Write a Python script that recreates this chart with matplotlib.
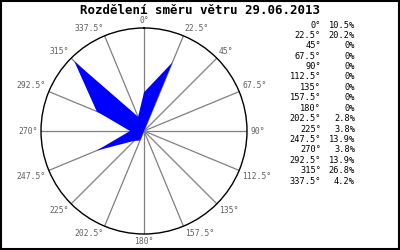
import matplotlib
matplotlib.use("Agg")
import matplotlib.pyplot as plt
import numpy as np
from matplotlib.patches import Rectangle

# wind direction (degrees) and share of time (%)
directions = [0, 22.5, 45, 67.5, 90, 112.5, 135, 157.5,
              180, 202.5, 225, 247.5, 270, 292.5, 315, 337.5]
dir_labels = ["0°", "22.5°", "45°", "67.5°", "90°", "112.5°", "135°", "157.5°",
              "180°", "202.5°", "225°", "247.5°", "270°", "292.5°", "315°", "337.5°"]
shares = [10.5, 20.2, 0, 0, 0, 0, 0, 0, 0, 2.8, 3.8, 13.9, 3.8, 13.9, 26.8, 4.2]
share_labels = ["10.5%", "20.2%", "0%", "0%", "0%", "0%", "0%", "0%", "0%",
                "2.8%", "3.8%", "13.9%", "3.8%", "13.9%", "26.8%", "4.2%"]

title = "Rozdělení směru větru 29.06.2013"
RMAX = 28.0

fig = plt.figure(figsize=(4, 2.5), dpi=100)
fig.patch.set_facecolor("white")
fig.patches.append(Rectangle((0.002, 0.003), 0.995, 0.993, transform=fig.transFigure,
                             fill=False, edgecolor="black", linewidth=1.5))

ax = fig.add_axes([0.1025, 0.064, 0.515, 0.824], projection="polar")
ax.set_theta_zero_location("N")
ax.set_theta_direction(-1)
ax.set_ylim(0, RMAX)
ax.grid(False)
ax.set_xticks([])
ax.set_yticks([])
ax.spines["polar"].set_color("black")
ax.spines["polar"].set_linewidth(1.0)

theta = np.radians(directions)

# spokes
for t in theta:
    ax.plot([t, t], [0, RMAX], color="#808080", linewidth=0.9, zorder=1)

# rose polygon
th = np.append(theta, theta[0])
rr = np.append(shares, shares[0])
ax.fill(th, rr, color="#0000ff", edgecolor="none", zorder=2)

# direction labels
for t, lab in zip(theta, dir_labels):
    s, c = np.sin(t), np.cos(t)
    ha = "left" if s > 0.05 else ("right" if s < -0.05 else "center")
    va = "bottom" if c > 0.05 else ("top" if c < -0.05 else "center")
    ax.text(t, RMAX * 1.03, lab, ha=ha, va=va, fontsize=5.8,
            family="DejaVu Sans Mono", color="#606060", zorder=3)

fig.text(0.5, 0.96, title, ha="center", va="center", fontsize=9,
         fontweight="bold", family="DejaVu Sans Mono")

# legend table
y0 = 1 - 25 / 250
dy = 10.4 / 250
for i, (dl, sl) in enumerate(zip(dir_labels, share_labels)):
    y = y0 - i * dy
    fig.text(321 / 400, y, dl, ha="right", va="center", fontsize=6.2,
             family="DejaVu Sans Mono", color="black")
    fig.text(355 / 400, y, sl, ha="right", va="center", fontsize=6.2,
             family="DejaVu Sans Mono", color="black")

fig.savefig("out.png", dpi=100)
